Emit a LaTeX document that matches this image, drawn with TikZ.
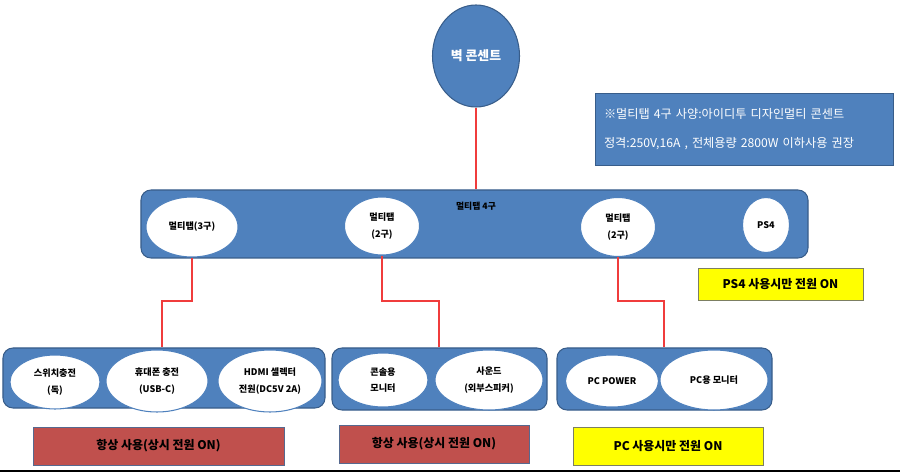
\documentclass[tikz,border=0pt]{standalone}
\usepackage{fontspec}
\setmainfont{Noto Sans CJK KR}
\usepackage{xcolor}
\usetikzlibrary{shapes.geometric}

\definecolor{tapblue}{HTML}{4F81BD}
\definecolor{tapedge}{HTML}{385D8A}
\definecolor{alwaysred}{HTML}{C0504D}
\definecolor{tagedge}{HTML}{56698F}
\definecolor{onyellow}{HTML}{FFFF00}
\definecolor{yellowedge}{HTML}{7C7F62}
\definecolor{wirered}{HTML}{F03C3C}

\begin{document}
\begin{tikzpicture}[
    x=0.3mm, y=-0.3mm,
    strip/.style={draw=tapedge, fill=tapblue, rounded corners=3mm,
                  line width=0.9pt, inner sep=0pt},
    plug/.style={ellipse, draw=tapblue, fill=white, line width=0.9pt,
                 inner sep=0pt, align=center,
                 font=\fontsize{7.8}{14}\selectfont\bfseries},
    tag/.style={draw=tagedge, fill=alwaysred, line width=0.8pt,
                minimum height=11.4mm, inner sep=0pt,
                font=\fontsize{10.2}{12}\selectfont\bfseries},
    pctag/.style={tag, draw=yellowedge, fill=onyellow},
    wire/.style={draw=wirered, line width=1pt},
]
\useasboundingbox (0,0) rectangle (900,474);

%% ── Wall outlet and spec note ───────────────────────────────────────────────
\node[ellipse, draw=tapedge, fill=tapblue, line width=0.9pt, inner sep=0pt,
      minimum width=26.1mm, minimum height=30.6mm, text=white,
      font=\fontsize{11}{13}\selectfont\bfseries] (wall) at (476,56) {벽 콘센트};
\node[draw=tapedge, fill=tapblue, line width=0.8pt, text=white,
      minimum width=89.4mm, minimum height=21.6mm,
      text width=84mm, inner xsep=2.4mm, align=left,
      font=\fontsize{10.4}{25}\selectfont] (spec) at (744,129)
  {※멀티탭 4구 사양:아이디투 디자인멀티 콘센트\\
   정격:250V,16A , 전체용량 2800W 이하사용 권장};

%% ── Multitap 4 ports (row 1) ────────────────────────────────────────────────
\node[strip, minimum width=200.1mm, minimum height=20.4mm] (tap4) at (474.5,224) {};
\node[font=\fontsize{7.5}{9}\selectfont\bfseries] (tap4title) at (476,206) {멀티탭 4구};
\node[plug, minimum width=27.6mm, minimum height=18mm]   (tap3)  at (192,227) {멀티탭(3구)};
\node[plug, minimum width=22.5mm, minimum height=17.4mm] (tap2a) at (382,226) {멀티탭\\(2구)};
\node[plug, minimum width=22.5mm, minimum height=17.7mm] (tap2b) at (618,227) {멀티탭\\(2구)};
\node[plug, minimum width=14.1mm, minimum height=16.5mm] (ps4)   at (766,225) {PS4};
\node[pctag, minimum width=49.5mm, minimum height=9.6mm] (ps4tag) at (780.5,284) {PS4 사용시만 전원 ON};

%% ── Sub multitaps (row 2) ───────────────────────────────────────────────────
\node[strip, minimum width=96.6mm, minimum height=18mm]   (g1) at (164,378) {};
\node[strip, minimum width=64.5mm, minimum height=18.6mm] (g2) at (439.5,379) {};
\node[strip, minimum width=64.5mm, minimum height=18.6mm] (g3) at (664.5,379) {};

\node[plug, minimum width=27mm,   minimum height=16.2mm] (switch)  at (55,382)  {스위치충전\\(독)};
\node[plug, minimum width=30.6mm, minimum height=18.6mm] (phone)   at (157,381) {휴대폰 충전\\(USB-C)};
\node[plug, minimum width=31.2mm, minimum height=18.6mm] (hdmi)    at (270,381) {HDMI 셀렉터\\전원(DC5V 2A)};
\node[plug, minimum width=27mm,   minimum height=16.2mm] (console) at (383,380) {콘솔용\\모니터};
\node[plug, minimum width=32.4mm, minimum height=18mm]   (sound)   at (489,380) {사운드\\(외부스피커)};
\node[plug, minimum width=27.9mm, minimum height=15.6mm] (pcpow)   at (612,381) {PC POWER};
\node[plug, minimum width=32.4mm, minimum height=18mm]   (pcmon)   at (714,380) {PC용 모니터};

%% ── Power state tags ────────────────────────────────────────────────────────
\node[tag, minimum width=75.3mm] (always1) at (158.5,446) {항상 사용(상시 전원 ON)};
\node[tag, minimum width=57mm]   (always2) at (434,444)   {항상 사용(상시 전원 ON)};
\node[pctag, minimum width=57mm] (pconly)  at (668,446)   {PC 사용시만 전원 ON};

%% ── Wires ───────────────────────────────────────────────────────────────────
\draw[wire] (wall.south) -- (wall.south |- tap4.north);

\coordinate (k1) at (162,301);
\coordinate (k2) at (439,301);
\coordinate (k3) at (664,301);
\draw[wire] (tap3.south)  |- (k1) -- (k1 |- g1.north);
\draw[wire] (tap2a.south) |- (k2) -- (k2 |- g2.north);
\draw[wire] (tap2b.south) |- (k3) -- (k3 |- g3.north);

%% ── Bottom rule ─────────────────────────────────────────────────────────────
\draw[line width=1.4pt] (0,471) -- (900,471);

\end{tikzpicture}
\end{document}
